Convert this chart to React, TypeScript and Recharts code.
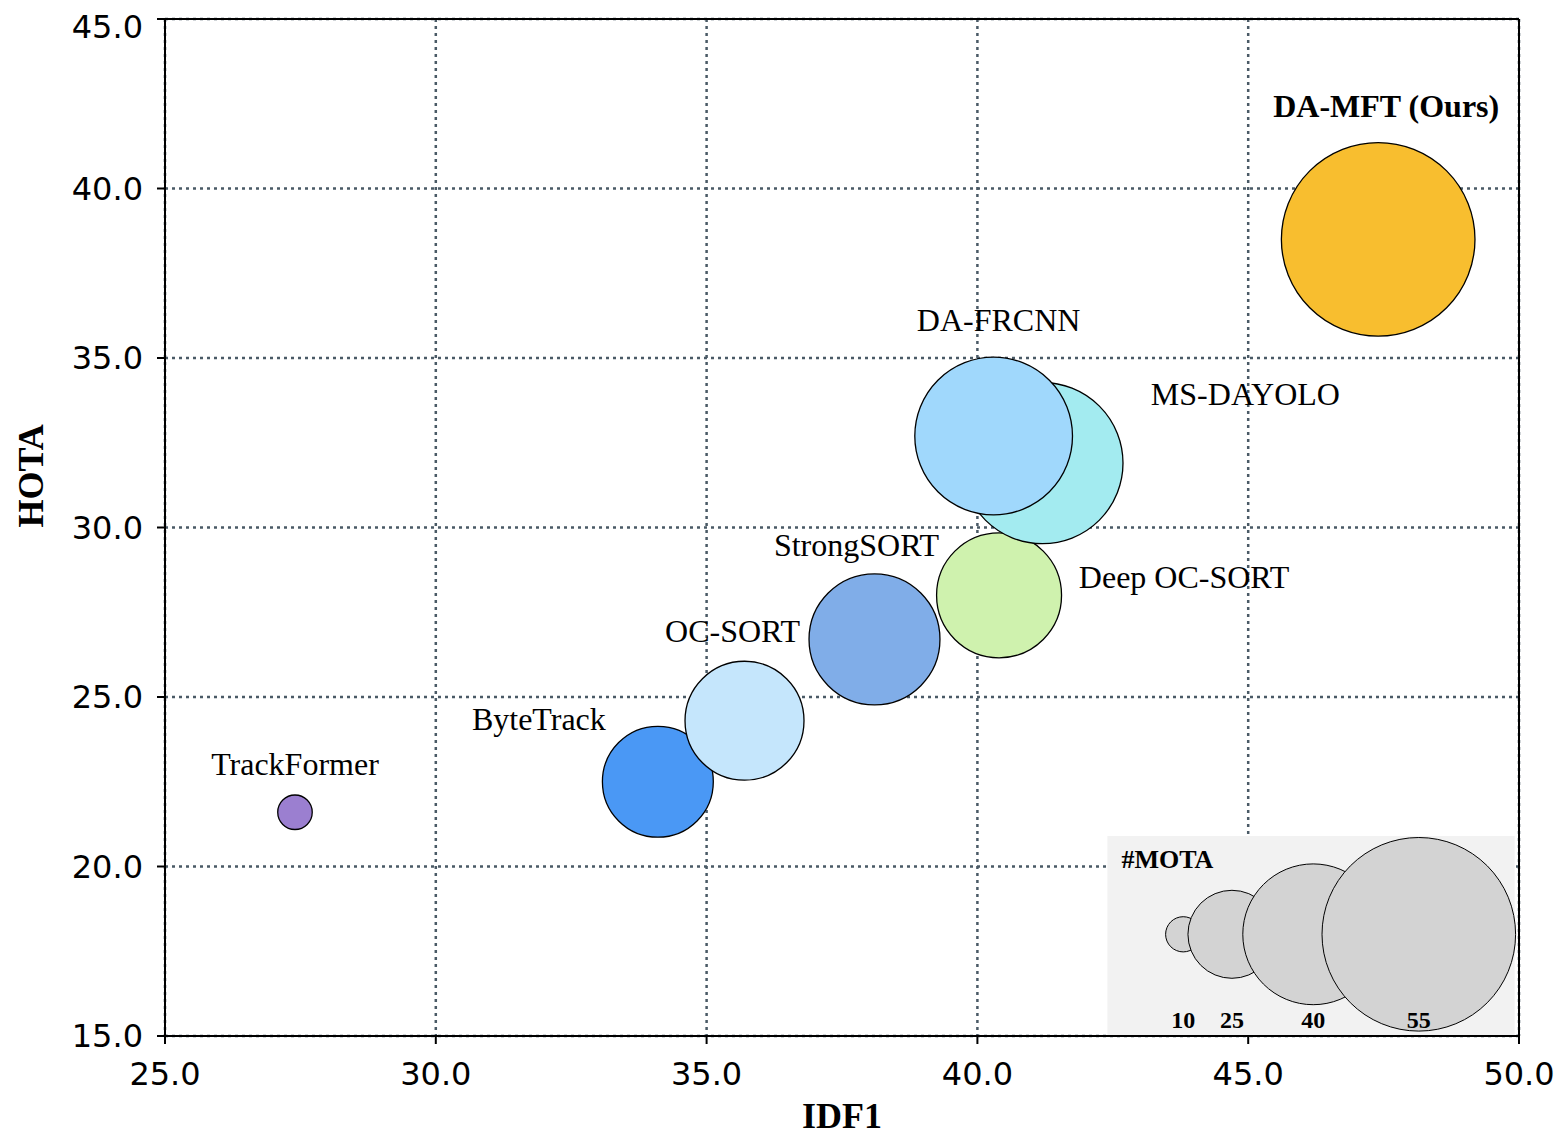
import { ScatterChart, Scatter, XAxis, YAxis, CartesianGrid, ReferenceLine, ReferenceArea } from "recharts";

const methods = ["TrackFormer", "ByteTrack", "OC-SORT", "StrongSORT", "Deep OC-SORT", "MS-DAYOLO", "DA-FRCNN", "DA-MFT (Ours)"];
const idf1 = [27.4, 34.1, 35.7, 38.1, 40.4, 41.2, 40.3, 47.4];
const hota = [21.6, 22.5, 24.3, 26.7, 28.0, 31.9, 32.7, 38.5];
const mota = [9.8, 31.5, 33.8, 37.2, 35.5, 45.8, 44.8, 55.0];
const colors = ["#9b7fd0", "#4a98f5", "#c5e6fc", "#80ade8", "#cff2ae", "#a3ebf0", "#a0d8fc", "#f8be2f"];

const legendSizes = [10, 25, 40, 55];
const legendX = [43.8, 44.7, 46.2, 48.15];
const legendY = 18.0;

const xTicks = [25, 30, 35, 40, 45, 50];
const yTicks = [15, 20, 25, 30, 35, 40, 45];

const labelOffsets: Record<string, [number, number]> = {
  "TrackFormer": [0, -48],
  "ByteTrack": [-119, -63],
  "OC-SORT": [-12, -90],
  "StrongSORT": [-18, -94],
  "Deep OC-SORT": [185, -18],
  "MS-DAYOLO": [203, -69],
  "DA-FRCNN": [5, -116],
  "DA-MFT (Ours)": [8, -133],
};

const points = methods.map((name, i) => ({ name, x: idf1[i], y: hota[i], z: mota[i], color: colors[i] }));
const legendPoints = legendSizes.map((z, i) => ({ x: legendX[i], y: legendY, z }));

const R = 1.76;
const serif = "Liberation Serif, Times New Roman, serif";

const Bubble = (p: any) => {
  const d = p.payload;
  const [dx, dy] = labelOffsets[d.name];
  return (
    <g>
      <circle cx={p.cx} cy={p.cy} r={d.z * R} fill={d.color} stroke="#000" strokeWidth={1.3} />
      <text x={p.cx + dx} y={p.cy + dy} textAnchor="middle" dominantBaseline="central"
        fontFamily={serif} fontSize={32} fontWeight={d.name.includes("Ours") ? "bold" : "normal"} fill="#000">
        {d.name}
      </text>
    </g>
  );
};

const LegendBubble = (p: any) => {
  const d = p.payload;
  return (
    <g>
      <circle cx={p.cx} cy={p.cy} r={d.z * R} fill="#d3d3d3" stroke="#000" strokeWidth={1} />
      <text x={p.cx} y={p.cy + 86} textAnchor="middle" dominantBaseline="central"
        fontFamily={serif} fontSize={24} fontWeight="bold">{d.z}</text>
    </g>
  );
};

export default function App() {
  const tick = { fontFamily: "DejaVu Sans", fontSize: 32, fill: "#000" };
  return (
    <ScatterChart width={1554} height={1134} margin={{ top: 11, right: 43, left: 0, bottom: 0 }}>
      <ReferenceArea x1={42.4} x2={49.92} y1={15} y2={20.9} fill="#f2f2f2" fillOpacity={1} stroke="none"
        label={{ value: "#MOTA", position: "insideTopLeft", offset: 14, fontFamily: serif, fontSize: 26, fontWeight: "bold", fill: "#000" }} />
      <CartesianGrid strokeDasharray="3 4" stroke="#4a5a66" strokeWidth={2.5} />
      <XAxis type="number" dataKey="x" domain={[25, 50]} ticks={xTicks} tickFormatter={(v) => v.toFixed(1)}
        height={106} tick={tick} stroke="#000" strokeWidth={2} tickSize={8} tickMargin={18}
        label={{ value: "IDF1", position: "insideBottom", offset: 14, fontFamily: serif, fontSize: 36, fontWeight: "bold", fill: "#000" }} />
      <YAxis type="number" dataKey="y" domain={[15, 45]} ticks={yTicks} tickFormatter={(v) => v.toFixed(1)}
        width={157} tick={tick} stroke="#000" strokeWidth={2} tickSize={8} tickMargin={14}
        label={{ value: "HOTA", angle: -90, position: "insideLeft", offset: 22, fontFamily: serif, fontSize: 36, fontWeight: "bold", fill: "#000" }} />
      <ReferenceLine y={45} stroke="#000" strokeWidth={2} />
      <ReferenceLine x={50} stroke="#000" strokeWidth={2} />
      <Scatter data={legendPoints} shape={LegendBubble} isAnimationActive={false} />
      <Scatter data={points} shape={Bubble} isAnimationActive={false} />
    </ScatterChart>
  );
}
